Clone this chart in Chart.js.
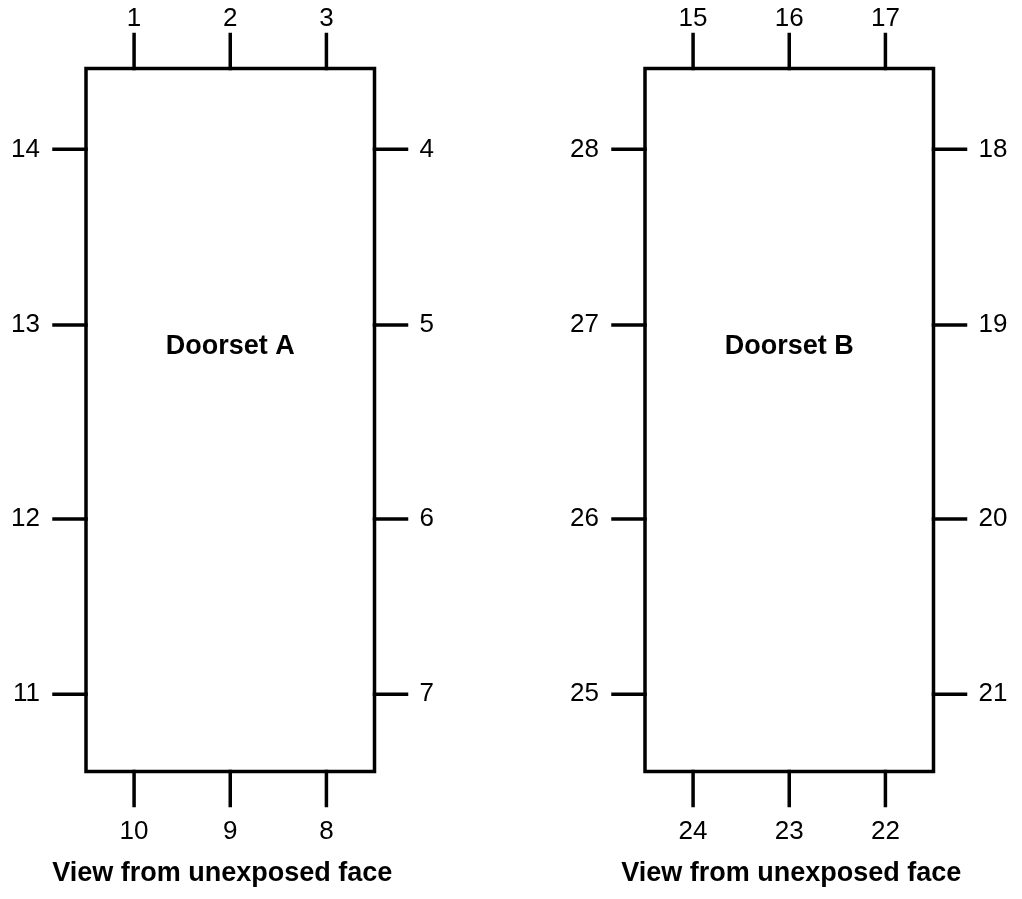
<!DOCTYPE html>
<html>
<head>
<meta charset="utf-8">
<script src="https://cdn.jsdelivr.net/npm/chart.js@4"></script>
<style>
  html, body { margin: 0; padding: 0; background: #fff; }
  #wrap { width: 1022px; height: 899px; position: relative; }
</style>
</head>
<body>
<div id="wrap"><canvas id="plano"></canvas></div>
<script>
// thermocouple numbering round each doorset
const doorsetNames = ['Doorset A', 'Doorset B'];
const caption = 'View from unexposed face';
const topNumbers = [[1, 2, 3], [15, 16, 17]];
const rightNumbers = [[4, 5, 6, 7], [18, 19, 20, 21]];
const bottomNumbers = [[10, 9, 8], [24, 23, 22]];
const leftNumbers = [[14, 13, 12, 11], [28, 27, 26, 25]];
// where the points sit, as a share of width / height
const edgeSteps = [1 / 6, 1 / 2, 5 / 6];
const sideSteps = [0.115, 0.365, 0.641, 0.89];

// drawing layout, in page pixels
const frame = {
    lefts: [86, 645],
    top: 68.5,
    width: 288.5,
    height: 703,
    tickV: 34,
    tickH: 32,
    captionShift: [-8, 2]
};

const negro = '#000';
const datasets = [];
const textos = [];

function linea(pts) {
    datasets.push({
        data: pts,
        showLine: true,
        borderColor: negro,
        borderWidth: 3.5,
        pointRadius: 0,
        borderCapStyle: 'square',
        borderJoinStyle: 'miter',
        fill: false
    });
}

doorsetNames.forEach(function (nombre, d) {
    const x0 = frame.lefts[d];
    const x1 = x0 + frame.width;
    const y0 = frame.top;
    const y1 = y0 + frame.height;

    linea([{ x: x0, y: y0 }, { x: x1, y: y0 }, { x: x1, y: y1 }, { x: x0, y: y1 }, { x: x0, y: y0 }]);

    topNumbers[d].forEach(function (n, i) {
        const x = x0 + edgeSteps[i] * frame.width;
        linea([{ x: x, y: y0 }, { x: x, y: y0 - frame.tickV }]);
        textos.push({ t: String(n), x: x, y: y0 - frame.tickV - 15.5, align: 'center' });
    });
    bottomNumbers[d].forEach(function (n, i) {
        const x = x0 + edgeSteps[i] * frame.width;
        linea([{ x: x, y: y1 }, { x: x, y: y1 + frame.tickV }]);
        textos.push({ t: String(n), x: x, y: y1 + frame.tickV + 26, align: 'center' });
    });
    rightNumbers[d].forEach(function (n, i) {
        const y = y0 + sideSteps[i] * frame.height;
        linea([{ x: x1, y: y }, { x: x1 + frame.tickH, y: y }]);
        textos.push({ t: String(n), x: x1 + frame.tickH + 13, y: y, align: 'left' });
    });
    leftNumbers[d].forEach(function (n, i) {
        const y = y0 + sideSteps[i] * frame.height;
        linea([{ x: x0, y: y }, { x: x0 - frame.tickH, y: y }]);
        textos.push({ t: String(n), x: x0 - frame.tickH - 14, y: y, align: 'right' });
    });

    textos.push({ t: nombre, x: (x0 + x1) / 2, y: y0 + 0.396 * frame.height, align: 'center', bold: true });
    textos.push({ t: caption, x: (x0 + x1) / 2 + frame.captionShift[d], y: y1 + 102, align: 'center', bold: true });
});

const etiquetas = {
    id: 'etiquetas',
    afterDatasetsDraw(chart) {
        const ctx = chart.ctx;
        const sx = chart.scales.x;
        const sy = chart.scales.y;
        ctx.save();
        ctx.fillStyle = negro;
        ctx.textBaseline = 'middle';
        textos.forEach(function (e) {
            ctx.font = e.bold ? 'bold 27px "Liberation Sans", Arial, sans-serif' : '26px "Liberation Sans", Arial, sans-serif';
            ctx.textAlign = e.align;
            ctx.fillText(e.t, sx.getPixelForValue(e.x), sy.getPixelForValue(e.y));
        });
        ctx.restore();
    }
};

new Chart(document.getElementById('plano'), {
    type: 'scatter',
    data: { datasets: datasets },
    options: {
        responsive: true,
        maintainAspectRatio: false,
        animation: false,
        layout: { padding: 0 },
        plugins: { legend: { display: false }, tooltip: { enabled: false } },
        scales: {
            x: { type: 'linear', min: 0, max: 1022, display: false },
            y: { type: 'linear', min: 0, max: 899, reverse: true, display: false }
        }
    },
    plugins: [etiquetas]
});
</script>
</body>
</html>
